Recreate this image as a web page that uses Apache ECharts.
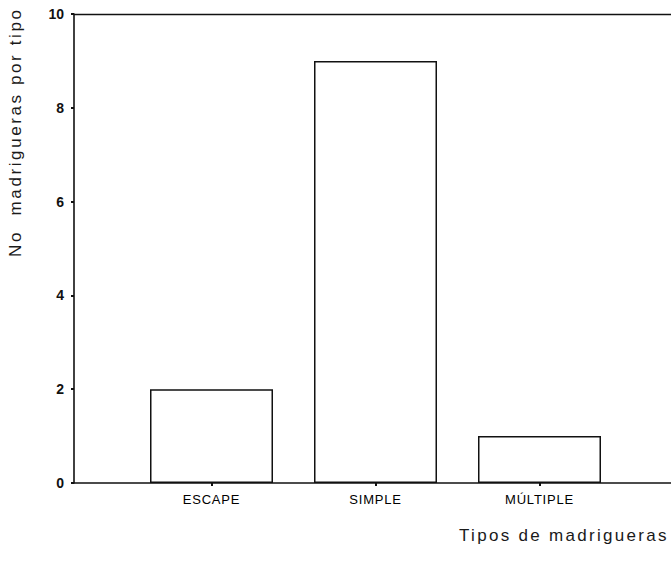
<!DOCTYPE html>
<html>
<head>
<meta charset="utf-8">
<script src="https://cdn.jsdelivr.net/npm/echarts@6/dist/echarts.min.js"></script>
<style>
  html, body { margin: 0; padding: 0; background: #ffffff; }
  #chart { width: 671px; height: 565px; }
</style>
</head>
<body>
<div id="chart"></div>
<script>
// ---- data ----
const categories = ['ESCAPE', 'SIMPLE', 'MÚLTIPLE'];
const burrowCounts = [2, 9, 1];
const yTicks = [0, 2, 4, 6, 8, 10];
const yTitle = 'No  madrigueras por tipo';
const xTitle = 'Tipos de madrigueras';

const ink = '#111111';
const font = '"Liberation Sans", Arial, Helvetica, sans-serif';

const chart = echarts.init(document.getElementById('chart'), null, { renderer: 'svg' });

chart.setOption({
  animation: false,
  backgroundColor: '#ffffff',
  grid: [
    { left: 74, top: 14, right: -30, bottom: 82 },
    { left: 129.5, top: 14, width: 492, bottom: 82 }
  ],
  xAxis: [
    {
      gridIndex: 0, type: 'value', position: 'bottom', min: 0, max: 1,
      axisLine: { show: true, lineStyle: { color: ink, width: 1.6 } },
      axisTick: { show: false }, axisLabel: { show: false }, splitLine: { show: false }
    },
    {
      gridIndex: 0, type: 'value', position: 'top', min: 0, max: 1,
      axisLine: { show: true, lineStyle: { color: ink, width: 1.4 } },
      axisTick: { show: false }, axisLabel: { show: false }, splitLine: { show: false }
    },
    {
      gridIndex: 1, type: 'category', data: categories, position: 'bottom',
      axisLine: { show: false },
      axisTick: { show: true, alignWithLabel: true, length: 3, lineStyle: { color: ink, width: 2 } },
      axisLabel: { color: '#000000', fontFamily: font, fontSize: 13, margin: 10 },
      splitLine: { show: false }
    }
  ],
  yAxis: [
    {
      gridIndex: 0, type: 'value', min: yTicks[0], max: yTicks[yTicks.length - 1], interval: 2,
      axisLine: { show: true, lineStyle: { color: ink, width: 1.6 } },
      axisTick: { show: true, length: 3, lineStyle: { color: ink, width: 2 } },
      axisLabel: { color: ink, fontFamily: font, fontSize: 14, fontWeight: 'bold', margin: 10 },
      splitLine: { show: false }
    },
    {
      gridIndex: 1, type: 'value', min: yTicks[0], max: yTicks[yTicks.length - 1],
      show: false, splitLine: { show: false }
    }
  ],
  series: [
    {
      type: 'bar',
      xAxisIndex: 2, yAxisIndex: 1,
      data: burrowCounts,
      barWidth: 123,
      itemStyle: { color: '#ffffff', borderColor: ink, borderWidth: 1.5 }
    }
  ],
  graphic: [
    {
      type: 'text', id: 'ytitle',
      x: 15, y: 257, rotation: Math.PI / 2,
      style: {
        text: yTitle, fill: '#1a1a1a', font: '17px ' + font,
        textAlign: 'left', textVerticalAlign: 'middle'
      }
    },
    {
      type: 'text', id: 'xtitle',
      x: 459, y: 535,
      style: {
        text: xTitle, fill: '#1a1a1a', font: '17px ' + font,
        textAlign: 'left', textVerticalAlign: 'middle'
      }
    }
  ]
});

// letter spacing as in the original (titles wide, category labels slightly)
document.querySelectorAll('#chart svg text').forEach(function (t) {
  const s = t.textContent;
  if (s === yTitle || s.indexOf('madrigueras por') >= 0) {
    t.style.letterSpacing = '2.6px';
    t.style.whiteSpace = 'pre';
  } else if (s === xTitle) {
    t.style.letterSpacing = '2.3px';
  } else if (categories.indexOf(s) >= 0) {
    t.style.letterSpacing = '0.8px';
  }
});
</script>
</body>
</html>
